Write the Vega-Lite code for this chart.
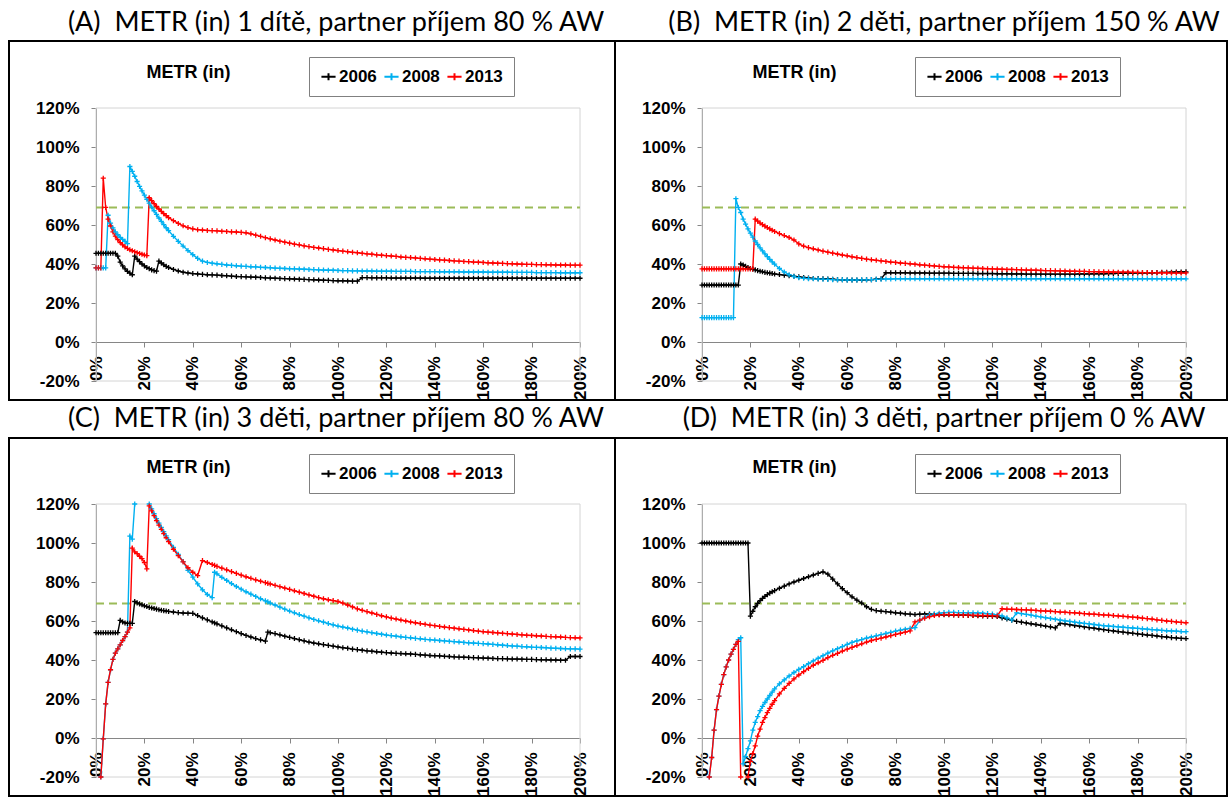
{
"$schema":"https://vega.github.io/schema/vega-lite/v6.json",
"padding":{"left":8,"top":5,"right":0,"bottom":0},
"config":{"view":{"stroke":"black","strokeWidth":2},"font":"Liberation Sans"},
"datasets":{
"A":[
{"x":0,"2006":45.5,"2008":38,"2013":38},{"x":1,"2006":45.5,"2008":38,"2013":38},{"x":2,"2006":45.5,"2008":38,"2013":38},{"x":3,"2006":45.5,"2008":38,"2013":84},{"x":4,"2006":45.5,"2008":38,"2013":69},{"x":5,"2006":45.5,"2008":65,"2013":63},{"x":6,"2006":45.5,"2008":61,"2013":59.5},{"x":7,"2006":45.5,"2008":58.5,"2013":56.5},{"x":8,"2006":45.5,"2008":56.5,"2013":54.3},{"x":9,"2006":44,"2008":55,"2013":52.5},{"x":10,"2006":41,"2008":53.7,"2013":51},{"x":11,"2006":39,"2008":52.6,"2013":49.8},{"x":12,"2006":37.5,"2008":51.6,"2013":48.8},{"x":13,"2006":36.2,"2008":50.5,"2013":48},{"x":14,"2006":35.3,"2008":90,"2013":47.3},{"x":15,"2006":34.5,"2008":87.5,"2013":46.8},{"x":16,"2006":44,"2008":85,"2013":46.3},{"x":17,"2006":42.5,"2008":82.3,"2013":45.8},{"x":18,"2006":41.2,"2008":79.8,"2013":45.4},{"x":19,"2006":40,"2008":77.5,"2013":45},{"x":20,"2006":39,"2008":75.3,"2013":44.6},{"x":21,"2006":38.2,"2008":73.2,"2013":44.3},{"x":22,"2006":37.6,"2008":71.2,"2013":74},{"x":23,"2006":37,"2008":69.2,"2013":72.5},{"x":24,"2006":36.6,"2008":67.3,"2013":71},{"x":25,"2006":36.3,"2008":65.4,"2013":69.5},{"x":26,"2006":41.5,"2008":63.6,"2013":68.2},{"x":27,"2006":40.5,"2008":61.9,"2013":67},{"x":28,"2006":39.6,"2008":60.2,"2013":65.8},{"x":29,"2006":38.8,"2008":58.6,"2013":64.8},{"x":30,"2006":38.2,"2008":57.1,"2013":63.8},
{"x":32,"2006":37.2,"2008":54.2,"2013":62.2},{"x":34,"2006":36.4,"2008":51.6,"2013":60.8},{"x":36,"2006":35.8,"2008":49.2,"2013":59.6},{"x":38,"2006":35.4,"2008":46.9,"2013":58.7},{"x":40,"2006":35.1,"2008":44.8,"2013":58},{"x":42,"2006":34.9,"2008":42.9,"2013":57.6},{"x":44,"2006":34.7,"2008":41.5,"2013":57.4},{"x":46,"2006":34.5,"2008":40.8,"2013":57.2},{"x":48,"2006":34.4,"2008":40.4,"2013":57.1},{"x":50,"2006":34.3,"2008":40.1,"2013":57},{"x":52,"2006":34.1,"2008":39.8,"2013":56.8},{"x":54,"2006":34,"2008":39.5,"2013":56.7},{"x":56,"2006":33.8,"2008":39.3,"2013":56.5},{"x":58,"2006":33.6,"2008":39.1,"2013":56.4},{"x":60,"2006":33.5,"2008":38.9,"2013":56.2},{"x":62,"2006":33.4,"2008":38.8,"2013":56},{"x":64,"2006":33.3,"2008":38.6,"2013":55.5},{"x":66,"2006":33.2,"2008":38.5,"2013":54.8},{"x":68,"2006":33.1,"2008":38.3,"2013":54.2},{"x":70,"2006":32.9,"2008":38.2,"2013":53.5},{"x":72,"2006":32.8,"2008":38.1,"2013":52.9},{"x":74,"2006":32.7,"2008":37.9,"2013":52.3},{"x":76,"2006":32.6,"2008":37.8,"2013":51.7},{"x":78,"2006":32.5,"2008":37.7,"2013":51.2},{"x":80,"2006":32.4,"2008":37.6,"2013":50.7},{"x":82,"2006":32.3,"2008":37.5,"2013":50.2},{"x":84,"2006":32.2,"2008":37.4,"2013":49.8},{"x":86,"2006":32.1,"2008":37.3,"2013":49.3},{"x":88,"2006":32,"2008":37.2,"2013":48.9},{"x":90,"2006":31.9,"2008":37.1,"2013":48.5},{"x":92,"2006":31.8,"2008":37,"2013":48.2},{"x":94,"2006":31.7,"2008":36.9,"2013":47.9},{"x":96,"2006":31.6,"2008":36.8,"2013":47.5},{"x":98,"2006":31.5,"2008":36.8,"2013":47.2},{"x":100,"2006":31.4,"2008":36.7,"2013":46.9},{"x":102,"2006":31.4,"2008":36.6,"2013":46.6},{"x":104,"2006":31.3,"2008":36.6,"2013":46.3},{"x":106,"2006":31.2,"2008":36.5,"2013":46},{"x":108,"2006":31.2,"2008":36.5,"2013":45.8},{"x":110,"2006":33,"2008":36.4,"2013":45.5},{"x":112,"2006":33,"2008":36.4,"2013":45.2},{"x":114,"2006":32.9,"2008":36.4,"2013":45},{"x":116,"2006":32.9,"2008":36.3,"2013":44.7},{"x":118,"2006":32.9,"2008":36.3,"2013":44.5},{"x":120,"2006":32.9,"2008":36.3,"2013":44.3},{"x":122,"2006":32.8,"2008":36.3,"2013":44.1},{"x":124,"2006":32.8,"2008":36.2,"2013":43.9},{"x":126,"2006":32.8,"2008":36.2,"2013":43.6},{"x":128,"2006":32.8,"2008":36.2,"2013":43.4},{"x":130,"2006":32.8,"2008":36.2,"2013":43.3},{"x":132,"2006":32.8,"2008":36.1,"2013":43.1},{"x":134,"2006":32.8,"2008":36.1,"2013":42.9},{"x":136,"2006":32.7,"2008":36.1,"2013":42.7},{"x":138,"2006":32.7,"2008":36.1,"2013":42.5},{"x":140,"2006":32.7,"2008":36.1,"2013":42.3},{"x":142,"2006":32.7,"2008":36,"2013":42.1},{"x":144,"2006":32.7,"2008":36,"2013":42},{"x":146,"2006":32.7,"2008":36,"2013":41.8},{"x":148,"2006":32.7,"2008":36,"2013":41.6},{"x":150,"2006":32.7,"2008":36,"2013":41.5},{"x":152,"2006":32.7,"2008":35.9,"2013":41.3},{"x":154,"2006":32.7,"2008":35.9,"2013":41.2},{"x":156,"2006":32.7,"2008":35.9,"2013":41},{"x":158,"2006":32.7,"2008":35.9,"2013":40.9},{"x":160,"2006":32.7,"2008":35.9,"2013":40.8},{"x":162,"2006":32.7,"2008":35.8,"2013":40.6},{"x":164,"2006":32.7,"2008":35.8,"2013":40.5},{"x":166,"2006":32.7,"2008":35.8,"2013":40.4},{"x":168,"2006":32.7,"2008":35.8,"2013":40.3},{"x":170,"2006":32.7,"2008":35.8,"2013":40.2},{"x":172,"2006":32.7,"2008":35.7,"2013":40.1},{"x":174,"2006":32.7,"2008":35.7,"2013":40},{"x":176,"2006":32.7,"2008":35.7,"2013":39.9},{"x":178,"2006":32.7,"2008":35.7,"2013":39.8},{"x":180,"2006":32.7,"2008":35.7,"2013":39.8},{"x":182,"2006":32.7,"2008":35.6,"2013":39.7},{"x":184,"2006":32.7,"2008":35.6,"2013":39.7},{"x":186,"2006":32.7,"2008":35.6,"2013":39.6},{"x":188,"2006":32.7,"2008":35.6,"2013":39.6},{"x":190,"2006":32.7,"2008":35.6,"2013":39.5},{"x":192,"2006":32.7,"2008":35.5,"2013":39.5},{"x":194,"2006":32.7,"2008":35.5,"2013":39.5},{"x":196,"2006":32.7,"2008":35.5,"2013":39.4},{"x":198,"2006":32.7,"2008":35.5,"2013":39.4},{"x":200,"2006":32.7,"2008":35.5,"2013":39.4}
],
"B":[
{"x":0,"2006":29.2,"2008":12.5,"2013":37.5},{"x":1,"2006":29.2,"2008":12.5,"2013":37.5},{"x":2,"2006":29.2,"2008":12.5,"2013":37.5},{"x":3,"2006":29.2,"2008":12.5,"2013":37.5},{"x":4,"2006":29.2,"2008":12.5,"2013":37.5},{"x":5,"2006":29.2,"2008":12.5,"2013":37.5},{"x":6,"2006":29.2,"2008":12.5,"2013":37.5},{"x":7,"2006":29.2,"2008":12.5,"2013":37.5},{"x":8,"2006":29.2,"2008":12.5,"2013":37.5},{"x":9,"2006":29.2,"2008":12.5,"2013":37.5},{"x":10,"2006":29.2,"2008":12.5,"2013":37.5},{"x":11,"2006":29.2,"2008":12.5,"2013":37.5},{"x":12,"2006":29.2,"2008":12.5,"2013":37.5},{"x":13,"2006":29.2,"2008":12.5,"2013":37.5},{"x":14,"2006":29.2,"2008":73.5,"2013":37.5},{"x":15,"2006":29.2,"2008":69,"2013":37.5},{"x":16,"2006":40,"2008":66.4,"2013":37.5},{"x":17,"2006":39.5,"2008":63,"2013":37.5},{"x":18,"2006":38.8,"2008":60.5,"2013":37.5},{"x":19,"2006":38.2,"2008":58,"2013":37.5},{"x":20,"2006":37.7,"2008":55.8,"2013":37.5},{"x":21,"2006":37.3,"2008":53.8,"2013":37.5},{"x":22,"2006":37,"2008":51.8,"2013":63},{"x":23,"2006":36.6,"2008":50,"2013":62},{"x":24,"2006":36.3,"2008":48.3,"2013":61},{"x":25,"2006":36,"2008":46.7,"2013":60.2},{"x":26,"2006":35.7,"2008":45.2,"2013":59.4},{"x":27,"2006":35.5,"2008":43.8,"2013":58.7},{"x":28,"2006":35.3,"2008":42.4,"2013":58},{"x":29,"2006":35.1,"2008":41.1,"2013":57.3},{"x":30,"2006":34.9,"2008":39.9,"2013":56.7},
{"x":32,"2006":34.6,"2008":37.7,"2013":55.6},{"x":34,"2006":34.3,"2008":35.9,"2013":54.6},{"x":36,"2006":34,"2008":34.5,"2013":53.6},{"x":38,"2006":33.7,"2008":33.6,"2013":52.3},{"x":40,"2006":33.4,"2008":33,"2013":50.3},{"x":42,"2006":33.1,"2008":32.7,"2013":49.2},{"x":44,"2006":32.8,"2008":32.5,"2013":48.4},{"x":46,"2006":32.6,"2008":32.4,"2013":47.8},{"x":48,"2006":32.5,"2008":32.3,"2013":47.2},{"x":50,"2006":32.4,"2008":32.2,"2013":46.6},{"x":52,"2006":32.3,"2008":32.1,"2013":46.1},{"x":54,"2006":32.2,"2008":32,"2013":45.6},{"x":56,"2006":32,"2008":31.9,"2013":45.1},{"x":58,"2006":31.9,"2008":31.9,"2013":44.6},{"x":60,"2006":31.8,"2008":31.8,"2013":44.2},{"x":62,"2006":31.8,"2008":31.8,"2013":43.7},{"x":64,"2006":31.8,"2008":31.8,"2013":43.3},{"x":66,"2006":31.8,"2008":31.9,"2013":42.9},{"x":68,"2006":31.9,"2008":31.9,"2013":42.5},{"x":70,"2006":32,"2008":32,"2013":42.2},{"x":72,"2006":32.2,"2008":32.1,"2013":41.9},{"x":74,"2006":32.4,"2008":32.2,"2013":41.6},{"x":76,"2006":35.5,"2008":32.3,"2013":41.3},{"x":78,"2006":35.5,"2008":32.3,"2013":41},{"x":80,"2006":35.5,"2008":32.4,"2013":40.8},{"x":82,"2006":35.5,"2008":32.4,"2013":40.5},{"x":84,"2006":35.5,"2008":32.4,"2013":40.3},{"x":86,"2006":35.4,"2008":32.4,"2013":40.1},{"x":88,"2006":35.4,"2008":32.4,"2013":39.9},{"x":90,"2006":35.4,"2008":32.4,"2013":39.6},{"x":92,"2006":35.4,"2008":32.4,"2013":39.4},{"x":94,"2006":35.3,"2008":32.4,"2013":39.2},{"x":96,"2006":35.3,"2008":32.4,"2013":39},{"x":98,"2006":35.3,"2008":32.4,"2013":38.8},{"x":100,"2006":35.3,"2008":32.4,"2013":38.6},{"x":102,"2006":35.3,"2008":32.4,"2013":38.5},{"x":104,"2006":35.2,"2008":32.4,"2013":38.3},{"x":106,"2006":35.2,"2008":32.4,"2013":38.2},{"x":108,"2006":35.2,"2008":32.4,"2013":38.1},{"x":110,"2006":35.2,"2008":32.4,"2013":38},{"x":112,"2006":35.2,"2008":32.4,"2013":37.9},{"x":114,"2006":35.1,"2008":32.4,"2013":37.8},{"x":116,"2006":35.1,"2008":32.4,"2013":37.7},{"x":118,"2006":35.1,"2008":32.4,"2013":37.6},{"x":120,"2006":35.1,"2008":32.4,"2013":37.5},{"x":122,"2006":35,"2008":32.4,"2013":37.4},{"x":124,"2006":35,"2008":32.4,"2013":37.3},{"x":126,"2006":35,"2008":32.4,"2013":37.2},{"x":128,"2006":34.9,"2008":32.4,"2013":37.2},{"x":130,"2006":34.9,"2008":32.4,"2013":37.1},{"x":132,"2006":34.9,"2008":32.4,"2013":37},{"x":134,"2006":34.8,"2008":32.4,"2013":36.9},{"x":136,"2006":34.8,"2008":32.4,"2013":36.8},{"x":138,"2006":34.8,"2008":32.4,"2013":36.8},{"x":140,"2006":34.8,"2008":32.4,"2013":36.7},{"x":142,"2006":34.8,"2008":32.4,"2013":36.6},{"x":144,"2006":34.8,"2008":32.4,"2013":36.6},{"x":146,"2006":34.8,"2008":32.4,"2013":36.5},{"x":148,"2006":34.8,"2008":32.4,"2013":36.5},{"x":150,"2006":34.8,"2008":32.4,"2013":36.4},{"x":152,"2006":34.8,"2008":32.4,"2013":36.3},{"x":154,"2006":34.8,"2008":32.4,"2013":36.3},{"x":156,"2006":34.9,"2008":32.4,"2013":36.2},{"x":158,"2006":34.9,"2008":32.4,"2013":36.2},{"x":160,"2006":34.9,"2008":32.4,"2013":36.1},{"x":162,"2006":35,"2008":32.4,"2013":36.1},{"x":164,"2006":35,"2008":32.4,"2013":36},{"x":166,"2006":35,"2008":32.4,"2013":36},{"x":168,"2006":35.1,"2008":32.4,"2013":35.9},{"x":170,"2006":35.1,"2008":32.4,"2013":35.9},{"x":172,"2006":35.2,"2008":32.4,"2013":35.8},{"x":174,"2006":35.2,"2008":32.4,"2013":35.8},{"x":176,"2006":35.3,"2008":32.4,"2013":35.8},{"x":178,"2006":35.3,"2008":32.4,"2013":35.7},{"x":180,"2006":35.4,"2008":32.4,"2013":35.7},{"x":182,"2006":35.4,"2008":32.4,"2013":35.6},{"x":184,"2006":35.5,"2008":32.4,"2013":35.6},{"x":186,"2006":35.5,"2008":32.4,"2013":35.6},{"x":188,"2006":35.6,"2008":32.4,"2013":35.5},{"x":190,"2006":35.7,"2008":32.4,"2013":35.5},{"x":192,"2006":35.7,"2008":32.4,"2013":35.5},{"x":194,"2006":35.8,"2008":32.4,"2013":35.4},{"x":196,"2006":35.9,"2008":32.4,"2013":35.4},{"x":198,"2006":35.9,"2008":32.4,"2013":35.4},{"x":200,"2006":36,"2008":32.4,"2013":35.4}
],
"C":[
{"x":0,"2006":54,"2008":null,"2013":null},{"x":1,"2006":54,"2008":null,"2013":null},{"x":2,"2006":54,"2008":-20,"2013":-20},{"x":3,"2006":54,"2008":-0.5,"2013":-0.5},{"x":4,"2006":54,"2008":17.5,"2013":17.5},{"x":5,"2006":54,"2008":28.5,"2013":28.5},{"x":6,"2006":54,"2008":35,"2013":35},{"x":7,"2006":54,"2008":40.3,"2013":40.3},{"x":8,"2006":54,"2008":43.5,"2013":43.5},{"x":9,"2006":54,"2008":45.7,"2013":45.7},{"x":10,"2006":60.3,"2008":47.8,"2013":47.8},{"x":11,"2006":59.5,"2008":50,"2013":50},{"x":12,"2006":59,"2008":52,"2013":52},{"x":13,"2006":58.8,"2008":54.3,"2013":54.3},{"x":14,"2006":58.8,"2008":103.5,"2013":56.5},{"x":15,"2006":58.8,"2008":102,"2013":97.4},{"x":16,"2006":70,"2008":120,"2013":95.5},{"x":17,"2006":69.3,"2008":null,"2013":94.5},{"x":18,"2006":68.8,"2008":null,"2013":93.2},{"x":19,"2006":68.3,"2008":null,"2013":92},{"x":20,"2006":67.8,"2008":null,"2013":90},{"x":21,"2006":67.4,"2008":null,"2013":86.7},{"x":22,"2006":67,"2008":120,"2013":119},{"x":23,"2006":66.7,"2008":117.5,"2013":116.5},{"x":24,"2006":66.4,"2008":115,"2013":114},{"x":25,"2006":66.1,"2008":112.5,"2013":111.5},{"x":26,"2006":65.8,"2008":110.2,"2013":109.2},{"x":27,"2006":65.5,"2008":108,"2013":107},{"x":28,"2006":65.3,"2008":105.8,"2013":104.8},{"x":29,"2006":65.1,"2008":103.7,"2013":102.7},{"x":30,"2006":64.9,"2008":101.7,"2013":100.7},
{"x":32,"2006":64.6,"2008":97.8,"2013":96.8},{"x":34,"2006":64.3,"2008":94.2,"2013":93.5},{"x":36,"2006":64.1,"2008":90.5,"2013":90.3},{"x":38,"2006":64,"2008":86,"2013":87.3},{"x":40,"2006":63.9,"2008":82.5,"2013":85},{"x":42,"2006":62.8,"2008":79,"2013":83.3},{"x":44,"2006":61.6,"2008":76,"2013":91},{"x":46,"2006":60.6,"2008":73.6,"2013":90},{"x":48,"2006":59.5,"2008":72,"2013":89},{"x":49,"2006":59,"2008":85,"2013":88.5},{"x":50,"2006":58.5,"2008":84.2,"2013":88},{"x":52,"2006":57.5,"2008":82.4,"2013":87.1},{"x":54,"2006":56.5,"2008":80.8,"2013":86.2},{"x":56,"2006":55.5,"2008":79.2,"2013":85.3},{"x":58,"2006":54.5,"2008":77.7,"2013":84.4},{"x":60,"2006":53.5,"2008":76.3,"2013":83.5},{"x":62,"2006":52.6,"2008":75,"2013":82.7},{"x":64,"2006":51.8,"2008":73.8,"2013":81.9},{"x":66,"2006":51,"2008":72.6,"2013":81.1},{"x":68,"2006":50.3,"2008":71.4,"2013":80.4},{"x":70,"2006":49.7,"2008":70.3,"2013":79.7},{"x":71,"2006":54.3,"2008":69.8,"2013":79.3},{"x":72,"2006":54,"2008":69.2,"2013":79},{"x":74,"2006":53.5,"2008":68.2,"2013":78.3},{"x":76,"2006":52.9,"2008":67.1,"2013":77.6},{"x":78,"2006":52.2,"2008":66.1,"2013":76.9},{"x":80,"2006":51.6,"2008":65.1,"2013":76.2},{"x":82,"2006":51,"2008":64.2,"2013":75.5},{"x":84,"2006":50.4,"2008":63.3,"2013":74.8},{"x":86,"2006":49.8,"2008":62.5,"2013":74.1},{"x":88,"2006":49.2,"2008":61.6,"2013":73.4},{"x":90,"2006":48.7,"2008":60.8,"2013":72.7},{"x":92,"2006":48.3,"2008":60.1,"2013":72},{"x":94,"2006":47.9,"2008":59.4,"2013":71.4},{"x":96,"2006":47.5,"2008":58.7,"2013":70.9},{"x":98,"2006":47.1,"2008":58,"2013":70.5},{"x":100,"2006":46.7,"2008":57.4,"2013":70},{"x":102,"2006":46.3,"2008":56.9,"2013":69.2},{"x":104,"2006":46,"2008":56.4,"2013":68.2},{"x":106,"2006":45.6,"2008":55.8,"2013":67.2},{"x":108,"2006":45.3,"2008":55.3,"2013":66.2},{"x":110,"2006":45,"2008":54.8,"2013":65.5},{"x":112,"2006":44.7,"2008":54.4,"2013":64.8},{"x":114,"2006":44.5,"2008":54,"2013":64.1},{"x":116,"2006":44.2,"2008":53.6,"2013":63.4},{"x":118,"2006":44,"2008":53.2,"2013":62.7},{"x":120,"2006":43.8,"2008":52.8,"2013":62.1},{"x":122,"2006":43.6,"2008":52.5,"2013":61.5},{"x":124,"2006":43.4,"2008":52.2,"2013":61},{"x":126,"2006":43.3,"2008":51.9,"2013":60.5},{"x":128,"2006":43.2,"2008":51.6,"2013":60},{"x":130,"2006":43.1,"2008":51.4,"2013":59.5},{"x":132,"2006":42.9,"2008":51.1,"2013":59.1},{"x":134,"2006":42.7,"2008":50.9,"2013":58.7},{"x":136,"2006":42.5,"2008":50.6,"2013":58.3},{"x":138,"2006":42.3,"2008":50.4,"2013":57.9},{"x":140,"2006":42.2,"2008":50.2,"2013":57.6},{"x":142,"2006":42.1,"2008":50,"2013":57.2},{"x":144,"2006":41.9,"2008":49.8,"2013":56.9},{"x":146,"2006":41.8,"2008":49.6,"2013":56.6},{"x":148,"2006":41.6,"2008":49.4,"2013":56.3},{"x":150,"2006":41.5,"2008":49.2,"2013":56},{"x":152,"2006":41.4,"2008":49,"2013":55.7},{"x":154,"2006":41.3,"2008":48.8,"2013":55.4},{"x":156,"2006":41.2,"2008":48.7,"2013":55.1},{"x":158,"2006":41.1,"2008":48.5,"2013":54.8},{"x":160,"2006":41,"2008":48.4,"2013":54.5},{"x":162,"2006":40.9,"2008":48.2,"2013":54.3},{"x":164,"2006":40.8,"2008":48,"2013":54.1},{"x":166,"2006":40.7,"2008":47.8,"2013":53.9},{"x":168,"2006":40.7,"2008":47.6,"2013":53.7},{"x":170,"2006":40.6,"2008":47.4,"2013":53.5},{"x":172,"2006":40.5,"2008":47.2,"2013":53.3},{"x":174,"2006":40.5,"2008":47.1,"2013":53.1},{"x":176,"2006":40.4,"2008":46.9,"2013":52.9},{"x":178,"2006":40.3,"2008":46.8,"2013":52.7},{"x":180,"2006":40.3,"2008":46.6,"2013":52.6},{"x":182,"2006":40.2,"2008":46.5,"2013":52.4},{"x":184,"2006":40.1,"2008":46.4,"2013":52.3},{"x":186,"2006":40.1,"2008":46.3,"2013":52.1},{"x":188,"2006":40,"2008":46.1,"2013":52},{"x":190,"2006":40,"2008":46,"2013":51.9},{"x":192,"2006":39.9,"2008":45.9,"2013":51.8},{"x":194,"2006":39.9,"2008":45.8,"2013":51.6},{"x":196,"2006":41.8,"2008":45.7,"2013":51.5},{"x":198,"2006":41.8,"2008":45.7,"2013":51.4},{"x":200,"2006":41.8,"2008":45.6,"2013":51.3}
],
"D":[
{"x":0,"2006":100,"2008":null,"2013":null},{"x":1,"2006":100,"2008":null,"2013":null},{"x":2,"2006":100,"2008":null,"2013":null},{"x":3,"2006":100,"2008":-20,"2013":-20},{"x":4,"2006":100,"2008":-10,"2013":-10},{"x":5,"2006":100,"2008":4,"2013":4},{"x":6,"2006":100,"2008":14.5,"2013":14.5},{"x":7,"2006":100,"2008":21.5,"2013":21.5},{"x":8,"2006":100,"2008":27.5,"2013":27.5},{"x":9,"2006":100,"2008":32.5,"2013":32.5},{"x":10,"2006":100,"2008":36.5,"2013":36.5},{"x":11,"2006":100,"2008":40,"2013":40},{"x":12,"2006":100,"2008":43,"2013":43},{"x":13,"2006":100,"2008":45.5,"2013":45.5},{"x":14,"2006":100,"2008":48,"2013":48},{"x":15,"2006":100,"2008":50.5,"2013":49.5},{"x":16,"2006":100,"2008":51.4,"2013":-20},{"x":17,"2006":100,"2008":-13.3,"2013":null},{"x":18,"2006":100,"2008":-9.5,"2013":null},{"x":19,"2006":100,"2008":-5.5,"2013":-20},{"x":20,"2006":62.5,"2008":-1.5,"2013":-12},{"x":21,"2006":65,"2008":4,"2013":-8},{"x":22,"2006":67.3,"2008":8,"2013":-4},{"x":23,"2006":69,"2008":11,"2013":1},{"x":24,"2006":70.5,"2008":14,"2013":4.5},{"x":25,"2006":71.6,"2008":16.2,"2013":8},{"x":26,"2006":72.6,"2008":18.2,"2013":10.5},{"x":27,"2006":73.5,"2008":20,"2013":13},{"x":28,"2006":74.3,"2008":21.8,"2013":15.2},{"x":29,"2006":75,"2008":23.5,"2013":17.3},{"x":30,"2006":75.6,"2008":25.2,"2013":19.2},
{"x":32,"2006":76.8,"2008":27.8,"2013":22.6},{"x":34,"2006":77.9,"2008":29.8,"2013":25.5},{"x":36,"2006":79,"2008":31.8,"2013":28},{"x":38,"2006":80,"2008":33.6,"2013":30.3},{"x":40,"2006":80.9,"2008":35.2,"2013":32.3},{"x":42,"2006":81.8,"2008":36.6,"2013":34},{"x":44,"2006":82.7,"2008":38.1,"2013":35.7},{"x":46,"2006":83.6,"2008":39.5,"2013":37.3},{"x":48,"2006":84.4,"2008":40.9,"2013":38.6},{"x":50,"2006":85.2,"2008":42.2,"2013":39.8},{"x":52,"2006":84,"2008":43.5,"2013":41.2},{"x":54,"2006":81.5,"2008":44.7,"2013":42.4},{"x":56,"2006":79,"2008":45.8,"2013":43.4},{"x":58,"2006":76.6,"2008":46.9,"2013":44.6},{"x":60,"2006":74.5,"2008":48,"2013":45.6},{"x":62,"2006":72.4,"2008":49,"2013":46.5},{"x":64,"2006":70.7,"2008":49.8,"2013":47.4},{"x":66,"2006":69.2,"2008":50.5,"2013":48.3},{"x":68,"2006":67.3,"2008":51.2,"2013":49.2},{"x":70,"2006":66,"2008":51.8,"2013":50},{"x":72,"2006":65.3,"2008":52.4,"2013":50.6},{"x":74,"2006":65,"2008":53,"2013":51.2},{"x":76,"2006":64.8,"2008":53.6,"2013":51.8},{"x":78,"2006":64.5,"2008":54.2,"2013":52.5},{"x":80,"2006":64.2,"2008":54.8,"2013":53.1},{"x":82,"2006":64,"2008":55.3,"2013":53.7},{"x":84,"2006":63.7,"2008":55.8,"2013":54.3},{"x":86,"2006":63.5,"2008":56.2,"2013":54.9},{"x":88,"2006":63.3,"2008":56.6,"2013":59.5},{"x":90,"2006":63.5,"2008":60.3,"2013":60.5},{"x":92,"2006":63.6,"2008":62,"2013":61.5},{"x":94,"2006":63.5,"2008":63,"2013":62.2},{"x":96,"2006":63.4,"2008":63.6,"2013":62.8},{"x":98,"2006":63.3,"2008":64,"2013":63.1},{"x":100,"2006":63.2,"2008":64.3,"2013":63.3},{"x":102,"2006":63.2,"2008":64.4,"2013":63.3},{"x":104,"2006":63.1,"2008":64.4,"2013":63.2},{"x":106,"2006":63,"2008":64.3,"2013":63.1},{"x":108,"2006":63,"2008":64.3,"2013":63},{"x":110,"2006":62.9,"2008":64.2,"2013":63},{"x":112,"2006":62.8,"2008":64.2,"2013":62.9},{"x":114,"2006":62.7,"2008":64.1,"2013":62.9},{"x":116,"2006":62.6,"2008":64,"2013":62.8},{"x":118,"2006":62.5,"2008":63.8,"2013":62.8},{"x":120,"2006":62.4,"2008":63.5,"2013":62.7},{"x":122,"2006":62.3,"2008":63.1,"2013":62.6},{"x":124,"2006":61.6,"2008":62.6,"2013":66.3},{"x":126,"2006":61,"2008":61.6,"2013":66.1},{"x":128,"2006":60.4,"2008":60.6,"2013":66},{"x":130,"2006":59.8,"2008":64.2,"2013":65.9},{"x":132,"2006":59.4,"2008":63.8,"2013":65.8},{"x":134,"2006":59,"2008":63.4,"2013":65.7},{"x":136,"2006":58.6,"2008":63,"2013":65.6},{"x":138,"2006":58.2,"2008":62.5,"2013":65.4},{"x":140,"2006":57.8,"2008":62.1,"2013":65.2},{"x":142,"2006":57.4,"2008":61.7,"2013":65.1},{"x":144,"2006":57,"2008":61.3,"2013":65},{"x":146,"2006":56.5,"2008":60.9,"2013":64.8},{"x":148,"2006":58.8,"2008":60.5,"2013":64.6},{"x":150,"2006":58.5,"2008":60.1,"2013":64.5},{"x":152,"2006":58.1,"2008":59.8,"2013":64.3},{"x":154,"2006":57.7,"2008":59.4,"2013":64.2},{"x":156,"2006":57.4,"2008":59.1,"2013":64},{"x":158,"2006":57,"2008":58.8,"2013":63.8},{"x":160,"2006":56.6,"2008":58.5,"2013":63.6},{"x":162,"2006":56.3,"2008":58.2,"2013":63.5},{"x":164,"2006":55.9,"2008":57.9,"2013":63.3},{"x":166,"2006":55.6,"2008":57.6,"2013":63.1},{"x":168,"2006":55.2,"2008":57.4,"2013":63},{"x":170,"2006":54.9,"2008":57.2,"2013":62.8},{"x":172,"2006":54.6,"2008":57,"2013":62.6},{"x":174,"2006":54.3,"2008":56.8,"2013":62.4},{"x":176,"2006":54,"2008":56.6,"2013":62.2},{"x":178,"2006":53.7,"2008":56.4,"2013":62},{"x":180,"2006":53.4,"2008":56.2,"2013":61.8},{"x":182,"2006":53.1,"2008":56,"2013":61.5},{"x":184,"2006":52.8,"2008":55.8,"2013":61.2},{"x":186,"2006":52.6,"2008":55.6,"2013":61},{"x":188,"2006":52.3,"2008":55.4,"2013":60.6},{"x":190,"2006":52,"2008":55.2,"2013":60.3},{"x":192,"2006":51.8,"2008":55,"2013":60},{"x":194,"2006":51.5,"2008":54.9,"2013":59.8},{"x":196,"2006":51.3,"2008":54.8,"2013":59.5},{"x":198,"2006":51.1,"2008":54.6,"2013":59.3},{"x":200,"2006":51,"2008":54.5,"2013":59.1}
]
},
"columns":2,
"spacing":0,
"bounds":"flush",
"resolve":{"scale":{"color":"independent"}},
"concat":[
{"width":606,"height":36,"data":{"values":[{"t":"(A)\u00a0 METR (in) 1 dítě, partner příjem 80 % AW"}]},"mark":{"type":"text","font":"Lato","fontSize":27,"dx":24,"color":"black"},"encoding":{"text":{"field":"t"}}},
{"width":612,"height":36,"data":{"values":[{"t":"(B)\u00a0 METR (in) 2 děti, partner příjem 150 % AW"}]},"mark":{"type":"text","font":"Lato","fontSize":27,"dx":23,"color":"black"},"encoding":{"text":{"field":"t"}}},
{"width":606,"height":359,"layer":[
{"data":{"values":[{"x0":0,"x1":200,"y0":-20,"y1":120}]},"mark":{"type":"rect","fillOpacity":0,"stroke":"#d4d4d4","strokeWidth":1},"encoding":{"x":{"field":"x0","type":"quantitative","scale":{"domain":[0,200],"range":[87,571],"nice":false,"zero":false}},"x2":{"field":"x1"},"y":{"field":"y0","type":"quantitative","scale":{"domain":[-20,120],"range":[340,67],"nice":false,"zero":false}},"y2":{"field":"y1"}}},
{"data":{"values":[{"x0":0,"x1":200,"y":69}]},"mark":{"type":"rule","color":"#9BBB59","strokeWidth":2,"strokeDash":[8,5]},"encoding":{"x":{"field":"x0","type":"quantitative"},"x2":{"field":"x1"},"y":{"field":"y","type":"quantitative"}}},
{"data":{"name":"A"},"transform":[{"fold":["2006","2008","2013"],"as":["year","v"]}],
"mark":{"type":"line","strokeWidth":1.4,"point":{"shape":"M-1,0L1,0M0,-1L0,1","filled":false,"size":26,"strokeWidth":1.3}},
"encoding":{
"x":{"field":"x","type":"quantitative","scale":{"domain":[0,200],"range":[87,571],"nice":false,"zero":false},"axis":{"orient":"bottom","offset":-58,"title":null,"values":[0,5,10,15,20,25,30,35,40,45,50,55,60,65,70,75,80,85,90,95,100,105,110,115,120,125,130,135,140,145,150,155,160,165,170,175,180,185,190,195,200],"labelExpr":"datum.value % 20 === 0 ? datum.value + '%' : ''","labelAngle":270,"labelFont":"Liberation Sans","labelFontWeight":"bold","labelFontSize":17,"labelColor":"black","labelPadding":9,"labelFlush":false,"labelOverlap":false,"labelBound":false,"tickSize":5,"tickColor":"#868686","domainColor":"#868686","grid":false}},
"y":{"field":"v","type":"quantitative","scale":{"domain":[-20,120],"range":[340,67],"nice":false,"zero":false},"axis":{"orient":"left","offset":-87,"values":[-20,0,20,40,60,80,100,120],"labelExpr":"datum.value + '%'","labelFont":"Liberation Sans","labelFontWeight":"bold","labelFontSize":17,"labelColor":"black","labelPadding":12,"labelFlush":false,"tickSize":5,"tickColor":"#868686","domainColor":"#868686","grid":false,"title":"METR (in)","titleAngle":0,"titleX":92,"titleY":31,"titleAlign":"center","titleBaseline":"middle","titleFont":"Liberation Sans","titleFontSize":18,"titleFontWeight":"bold","titleColor":"black"}},
"color":{"field":"year","type":"nominal","scale":{"domain":["2006","2008","2013"],"range":["#000000","#00B0F0","#FF0000"]},"legend":{"orient":"none","legendX":300,"legendY":16,"direction":"horizontal","title":null,"strokeColor":"#808080","fillColor":"white","padding":11,"labelFont":"Liberation Sans","labelFontSize":17,"labelFontWeight":"bold","labelColor":"black","symbolType":"M-1,0L1,0M0,-0.5L0,0.5","symbolSize":200,"symbolStrokeWidth":2,"columnPadding":3,"labelOffset":2}}
}}
]},
{"width":612,"height":359,"layer":[
{"data":{"values":[{"x0":0,"x1":200,"y0":-20,"y1":120}]},"mark":{"type":"rect","fillOpacity":0,"stroke":"#d4d4d4","strokeWidth":1},"encoding":{"x":{"field":"x0","type":"quantitative","scale":{"domain":[0,200],"range":[87,571],"nice":false,"zero":false}},"x2":{"field":"x1"},"y":{"field":"y0","type":"quantitative","scale":{"domain":[-20,120],"range":[340,67],"nice":false,"zero":false}},"y2":{"field":"y1"}}},
{"data":{"values":[{"x0":0,"x1":200,"y":69}]},"mark":{"type":"rule","color":"#9BBB59","strokeWidth":2,"strokeDash":[8,5]},"encoding":{"x":{"field":"x0","type":"quantitative"},"x2":{"field":"x1"},"y":{"field":"y","type":"quantitative"}}},
{"data":{"name":"B"},"transform":[{"fold":["2006","2008","2013"],"as":["year","v"]}],
"mark":{"type":"line","strokeWidth":1.4,"point":{"shape":"M-1,0L1,0M0,-1L0,1","filled":false,"size":26,"strokeWidth":1.3}},
"encoding":{
"x":{"field":"x","type":"quantitative","scale":{"domain":[0,200],"range":[87,571],"nice":false,"zero":false},"axis":{"orient":"bottom","offset":-58,"title":null,"values":[0,5,10,15,20,25,30,35,40,45,50,55,60,65,70,75,80,85,90,95,100,105,110,115,120,125,130,135,140,145,150,155,160,165,170,175,180,185,190,195,200],"labelExpr":"datum.value % 20 === 0 ? datum.value + '%' : ''","labelAngle":270,"labelFont":"Liberation Sans","labelFontWeight":"bold","labelFontSize":17,"labelColor":"black","labelPadding":9,"labelFlush":false,"labelOverlap":false,"labelBound":false,"tickSize":5,"tickColor":"#868686","domainColor":"#868686","grid":false}},
"y":{"field":"v","type":"quantitative","scale":{"domain":[-20,120],"range":[340,67],"nice":false,"zero":false},"axis":{"orient":"left","offset":-87,"values":[-20,0,20,40,60,80,100,120],"labelExpr":"datum.value + '%'","labelFont":"Liberation Sans","labelFontWeight":"bold","labelFontSize":17,"labelColor":"black","labelPadding":12,"labelFlush":false,"tickSize":5,"tickColor":"#868686","domainColor":"#868686","grid":false,"title":"METR (in)","titleAngle":0,"titleX":92,"titleY":31,"titleAlign":"center","titleBaseline":"middle","titleFont":"Liberation Sans","titleFontSize":18,"titleFontWeight":"bold","titleColor":"black"}},
"color":{"field":"year","type":"nominal","scale":{"domain":["2006","2008","2013"],"range":["#000000","#00B0F0","#FF0000"]},"legend":{"orient":"none","legendX":300,"legendY":16,"direction":"horizontal","title":null,"strokeColor":"#808080","fillColor":"white","padding":11,"labelFont":"Liberation Sans","labelFontSize":17,"labelFontWeight":"bold","labelColor":"black","symbolType":"M-1,0L1,0M0,-0.5L0,0.5","symbolSize":200,"symbolStrokeWidth":2,"columnPadding":3,"labelOffset":2}}
}}
]},
{"width":606,"height":38,"data":{"values":[{"t":"(C)\u00a0 METR (in) 3 děti, partner příjem 80 % AW"}]},"mark":{"type":"text","font":"Lato","fontSize":27,"dx":24,"color":"black"},"encoding":{"text":{"field":"t"}}},
{"width":612,"height":38,"data":{"values":[{"t":"(D)\u00a0 METR (in) 3 děti, partner příjem 0 % AW"}]},"mark":{"type":"text","font":"Lato","fontSize":27,"dx":23,"color":"black"},"encoding":{"text":{"field":"t"}}},
{"width":606,"height":358,"layer":[
{"data":{"values":[{"x0":0,"x1":200,"y0":-20,"y1":120}]},"mark":{"type":"rect","fillOpacity":0,"stroke":"#d4d4d4","strokeWidth":1},"encoding":{"x":{"field":"x0","type":"quantitative","scale":{"domain":[0,200],"range":[87,571],"nice":false,"zero":false}},"x2":{"field":"x1"},"y":{"field":"y0","type":"quantitative","scale":{"domain":[-20,120],"range":[339,66],"nice":false,"zero":false}},"y2":{"field":"y1"}}},
{"data":{"values":[{"x0":0,"x1":200,"y":69}]},"mark":{"type":"rule","color":"#9BBB59","strokeWidth":2,"strokeDash":[8,5]},"encoding":{"x":{"field":"x0","type":"quantitative"},"x2":{"field":"x1"},"y":{"field":"y","type":"quantitative"}}},
{"data":{"name":"C"},"transform":[{"fold":["2006","2008","2013"],"as":["year","v"]}],
"mark":{"type":"line","strokeWidth":1.4,"point":{"shape":"M-1,0L1,0M0,-1L0,1","filled":false,"size":26,"strokeWidth":1.3}},
"encoding":{
"x":{"field":"x","type":"quantitative","scale":{"domain":[0,200],"range":[87,571],"nice":false,"zero":false},"axis":{"orient":"bottom","offset":-58,"title":null,"values":[0,5,10,15,20,25,30,35,40,45,50,55,60,65,70,75,80,85,90,95,100,105,110,115,120,125,130,135,140,145,150,155,160,165,170,175,180,185,190,195,200],"labelExpr":"datum.value % 20 === 0 ? datum.value + '%' : ''","labelAngle":270,"labelFont":"Liberation Sans","labelFontWeight":"bold","labelFontSize":17,"labelColor":"black","labelPadding":9,"labelFlush":false,"labelOverlap":false,"labelBound":false,"tickSize":5,"tickColor":"#868686","domainColor":"#868686","grid":false}},
"y":{"field":"v","type":"quantitative","scale":{"domain":[-20,120],"range":[339,66],"nice":false,"zero":false},"axis":{"orient":"left","offset":-87,"values":[-20,0,20,40,60,80,100,120],"labelExpr":"datum.value + '%'","labelFont":"Liberation Sans","labelFontWeight":"bold","labelFontSize":17,"labelColor":"black","labelPadding":12,"labelFlush":false,"tickSize":5,"tickColor":"#868686","domainColor":"#868686","grid":false,"title":"METR (in)","titleAngle":0,"titleX":92,"titleY":29,"titleAlign":"center","titleBaseline":"middle","titleFont":"Liberation Sans","titleFontSize":18,"titleFontWeight":"bold","titleColor":"black"}},
"color":{"field":"year","type":"nominal","scale":{"domain":["2006","2008","2013"],"range":["#000000","#00B0F0","#FF0000"]},"legend":{"orient":"none","legendX":300,"legendY":16,"direction":"horizontal","title":null,"strokeColor":"#808080","fillColor":"white","padding":11,"labelFont":"Liberation Sans","labelFontSize":17,"labelFontWeight":"bold","labelColor":"black","symbolType":"M-1,0L1,0M0,-0.5L0,0.5","symbolSize":200,"symbolStrokeWidth":2,"columnPadding":3,"labelOffset":2}}
}}
]},
{"width":612,"height":358,"layer":[
{"data":{"values":[{"x0":0,"x1":200,"y0":-20,"y1":120}]},"mark":{"type":"rect","fillOpacity":0,"stroke":"#d4d4d4","strokeWidth":1},"encoding":{"x":{"field":"x0","type":"quantitative","scale":{"domain":[0,200],"range":[87,571],"nice":false,"zero":false}},"x2":{"field":"x1"},"y":{"field":"y0","type":"quantitative","scale":{"domain":[-20,120],"range":[339,66],"nice":false,"zero":false}},"y2":{"field":"y1"}}},
{"data":{"values":[{"x0":0,"x1":200,"y":69}]},"mark":{"type":"rule","color":"#9BBB59","strokeWidth":2,"strokeDash":[8,5]},"encoding":{"x":{"field":"x0","type":"quantitative"},"x2":{"field":"x1"},"y":{"field":"y","type":"quantitative"}}},
{"data":{"name":"D"},"transform":[{"fold":["2006","2008","2013"],"as":["year","v"]}],
"mark":{"type":"line","strokeWidth":1.4,"point":{"shape":"M-1,0L1,0M0,-1L0,1","filled":false,"size":26,"strokeWidth":1.3}},
"encoding":{
"x":{"field":"x","type":"quantitative","scale":{"domain":[0,200],"range":[87,571],"nice":false,"zero":false},"axis":{"orient":"bottom","offset":-58,"title":null,"values":[0,5,10,15,20,25,30,35,40,45,50,55,60,65,70,75,80,85,90,95,100,105,110,115,120,125,130,135,140,145,150,155,160,165,170,175,180,185,190,195,200],"labelExpr":"datum.value % 20 === 0 ? datum.value + '%' : ''","labelAngle":270,"labelFont":"Liberation Sans","labelFontWeight":"bold","labelFontSize":17,"labelColor":"black","labelPadding":9,"labelFlush":false,"labelOverlap":false,"labelBound":false,"tickSize":5,"tickColor":"#868686","domainColor":"#868686","grid":false}},
"y":{"field":"v","type":"quantitative","scale":{"domain":[-20,120],"range":[339,66],"nice":false,"zero":false},"axis":{"orient":"left","offset":-87,"values":[-20,0,20,40,60,80,100,120],"labelExpr":"datum.value + '%'","labelFont":"Liberation Sans","labelFontWeight":"bold","labelFontSize":17,"labelColor":"black","labelPadding":12,"labelFlush":false,"tickSize":5,"tickColor":"#868686","domainColor":"#868686","grid":false,"title":"METR (in)","titleAngle":0,"titleX":92,"titleY":29,"titleAlign":"center","titleBaseline":"middle","titleFont":"Liberation Sans","titleFontSize":18,"titleFontWeight":"bold","titleColor":"black"}},
"color":{"field":"year","type":"nominal","scale":{"domain":["2006","2008","2013"],"range":["#000000","#00B0F0","#FF0000"]},"legend":{"orient":"none","legendX":300,"legendY":16,"direction":"horizontal","title":null,"strokeColor":"#808080","fillColor":"white","padding":11,"labelFont":"Liberation Sans","labelFontSize":17,"labelFontWeight":"bold","labelColor":"black","symbolType":"M-1,0L1,0M0,-0.5L0,0.5","symbolSize":200,"symbolStrokeWidth":2,"columnPadding":3,"labelOffset":2}}
}}
]}
]
}
